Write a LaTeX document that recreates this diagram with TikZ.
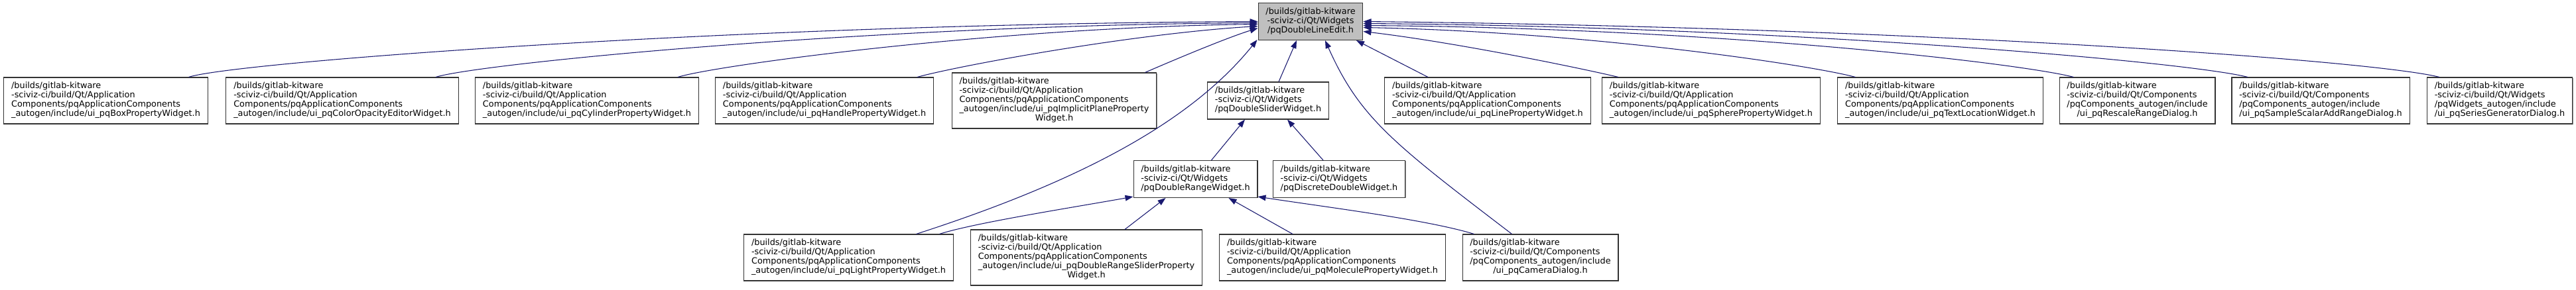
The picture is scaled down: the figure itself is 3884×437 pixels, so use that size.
\documentclass[tikz,border=0pt]{standalone}
\usepackage{fontspec}
\setmainfont{DejaVu Sans}
\usepackage{tikz}
\usetikzlibrary{positioning,arrows.meta,calc,shadows}
\definecolor{incblue}{HTML}{191970}
\definecolor{incgray}{HTML}{BFBFBF}
\definecolor{incline}{HTML}{333333}
% lines left, last line centred
\newcommand{\incfile}[2]{\begin{tabular}{@{}l@{}}#1\\\multicolumn{1}{@{}c@{}}{#2}\end{tabular}}
\newcommand{\appdir}{/builds/gitlab-kitware\\-sciviz-ci/build/Qt/Application\\Components/pqApplicationComponents}
\newcommand{\compdir}{/builds/gitlab-kitware\\-sciviz-ci/build/Qt/Components\\/pqComponents\_autogen/include}
\newcommand{\widgdir}{/builds/gitlab-kitware\\-sciviz-ci/Qt/Widgets}

\begin{document}
\begin{tikzpicture}[
  x=0.75pt, y=0.75pt,
  font=\fontsize{9.63}{10.5}\selectfont,
  file/.style={draw=incline, line width=0.8pt, fill=white, inner xsep=8.5pt, inner ysep=5.25pt,
    drop shadow={shadow xshift=0.7pt, shadow yshift=-0.7pt, fill=black!45, opacity=1}},
  cur/.style={draw=incline, line width=0.8pt, fill=incgray, inner xsep=8.5pt, inner ysep=5.25pt},
  inc/.style={-{Triangle[length=9pt,width=6.5pt]}, draw=incblue, line width=0.8pt}
]
\useasboundingbox (0,0) rectangle (3884,437);

\node[cur] (main) at (1976,404.5) {\begin{tabular}{@{}c@{}}/builds/gitlab-kitware\\-sciviz-ci/Qt/Widgets\\/pqDoubleLineEdit.h\end{tabular}};

% first row
\node[file] (boxw) at (159.5,285) {\incfile{\appdir}{\_autogen/include/ui\_pqBoxPropertyWidget.h}};
\node[file] (colorw) at (516,285) {\incfile{\appdir}{\_autogen/include/ui\_pqColorOpacityEditorWidget.h}};
\node[file] (cylw) at (885,285) {\incfile{\appdir}{\_autogen/include/ui\_pqCylinderPropertyWidget.h}};
\node[file] (handlew) at (1243,285) {\incfile{\appdir}{\_autogen/include/ui\_pqHandlePropertyWidget.h}};
\node[file] (planew) at (1589.5,285) {\incfile{\appdir\\\_autogen/include/ui\_pqImplicitPlaneProperty}{Widget.h}};
\node[file] (sliderw) at (1912,285) {\incfile{\widgdir}{/pqDoubleSliderWidget.h}};
\node[file] (linew) at (2243,285) {\incfile{\appdir}{\_autogen/include/ui\_pqLinePropertyWidget.h}};
\node[file] (spherew) at (2580,285) {\incfile{\appdir}{\_autogen/include/ui\_pqSpherePropertyWidget.h}};
\node[file] (textw) at (2925.5,285) {\incfile{\appdir}{\_autogen/include/ui\_pqTextLocationWidget.h}};
\node[file] (rescalew) at (3222.5,285) {\incfile{\compdir}{/ui\_pqRescaleRangeDialog.h}};
\node[file] (samplew) at (3499,285) {\incfile{\compdir}{/ui\_pqSampleScalarAddRangeDialog.h}};
\node[file] (seriesw) at (3769,285) {\incfile{/builds/gitlab-kitware\\-sciviz-ci/build/Qt/Widgets\\/pqWidgets\_autogen/include}{/ui\_pqSeriesGeneratorDialog.h}};

% second row
\node[file] (rangew) at (1802.5,166.5) {\incfile{\widgdir}{/pqDoubleRangeWidget.h}};
\node[file] (discretew) at (2019,166.5) {\incfile{\widgdir}{/pqDiscreteDoubleWidget.h}};

% third row
\node[file] (lightw) at (1279.5,48) {\incfile{\appdir}{\_autogen/include/ui\_pqLightPropertyWidget.h}};
\node[file] (rsliderw) at (1638,48) {\incfile{\appdir\\\_autogen/include/ui\_pqDoubleRangeSliderProperty}{Widget.h}};
\node[file] (moleculew) at (2009,48) {\incfile{\appdir}{\_autogen/include/ui\_pqMoleculePropertyWidget.h}};
\node[file] (cameraw) at (2322.5,48) {\incfile{\compdir}{/ui\_pqCameraDialog.h}};

% includes of pqDoubleLineEdit.h
\draw[inc] ($(boxw.north)+(125,0)$) .. controls +(66,22) and +(-795,-4) .. (main.west);
\draw[inc] ($(colorw.north)+(141,0)$) .. controls +(63,20) and +(-595,-4) .. ($(main.west)+(0,-2)$);
\draw[inc] ($(cylw.north)+(137,0)$) .. controls +(58,18) and +(-395,-5) .. ($(main.west)+(0,-4)$);
\draw[inc] ($(handlew.north)+(140,0)$) .. controls +(57,16) and +(-195,-12) .. ($(main.west)+(0,-7)$);
\draw[inc] ($(planew.north)+(137,0)$) .. controls +(53,23) and +(-45,-14) .. ($(main.west)+(0,-10)$);
\draw[inc] ($(sliderw.north)+(16,0)$) -- ($(main.south)+(-21,0)$);
\draw[inc] ($(linew.north)+(-90,0)$) -- ($(main.south)+(69,0)$);
\draw[inc] ($(spherew.north)+(-140,0)$) .. controls +(-50,12) and +(143,-17) .. ($(main.east)+(0,-15)$);
\draw[inc] ($(textw.north)+(-128,0)$) .. controls +(-67,18) and +(343,-7) .. ($(main.east)+(0,-9)$);
\draw[inc] ($(rescalew.north)+(-96,0)$) .. controls +(-76,20) and +(543,-4) .. ($(main.east)+(0,-6)$);
\draw[inc] ($(samplew.north)+(-110,0)$) .. controls +(-89,23) and +(643,-5) .. ($(main.east)+(0,-3)$);
\draw[inc] ($(seriesw.north)+(-91,0)$) .. controls +(-98,25) and +(843,-9) .. (main.east);
\draw[inc] ($(lightw.north)+(102,0)$) .. controls +(238,77) and +(-103,-128) .. ($(main.south west)+(-1,1)$);
\draw[inc] ($(cameraw.north)+(-43,0)$) .. controls +(-179,137) and +(52,-117) .. ($(main.south)+(22,0)$);

% includes of the slider widgets
\draw[inc] ($(rangew.north)+(24,0)$) -- ($(sliderw.south)+(-35,0)$);
\draw[inc] ($(discretew.north)+(-24,0)$) -- ($(sliderw.south)+(29,0)$);
\draw[inc] ($(lightw.north)+(137,0)$) .. controls +(53,17) and +(-89,-16) .. ($(rangew.south west)+(0,2)$);
\draw[inc] ($(rsliderw.north)+(58,0)$) -- ($(rangew.south)+(-45,0)$);
\draw[inc] ($(moleculew.north)+(-60,0)$) -- ($(rangew.south)+(50,0)$);
\draw[inc] ($(cameraw.north)+(-100,0)$) .. controls +(-72,22) and +(104,-16) .. ($(rangew.south east)+(0,2)$);
\end{tikzpicture}
\end{document}
